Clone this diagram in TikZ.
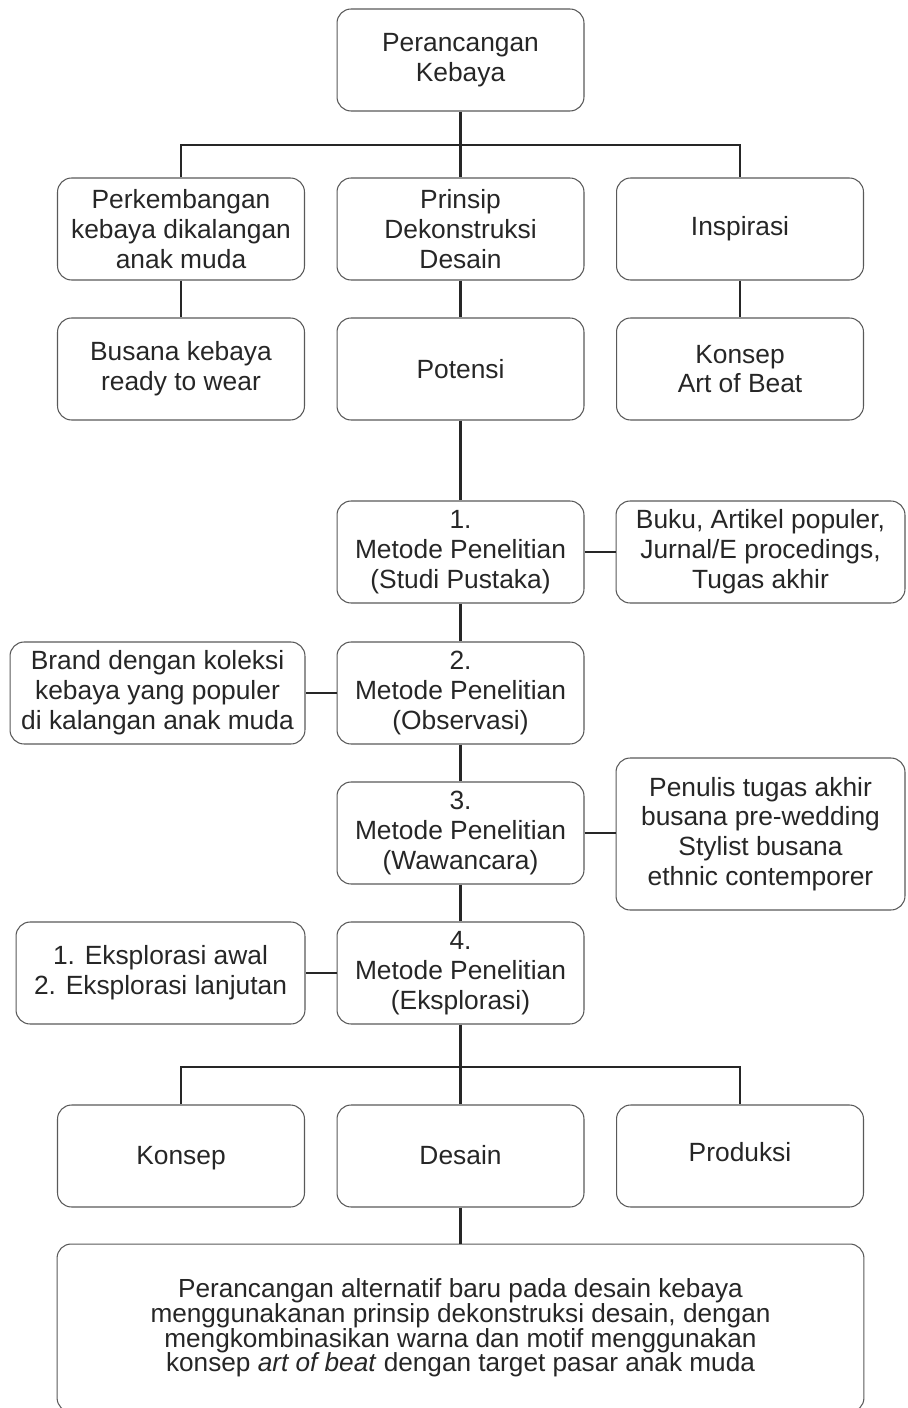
\documentclass[tikz,border=0pt]{standalone}
\usepackage{fontspec}
\setmainfont{Liberation Sans}
\newcommand\rapat{\fontsize{14.9}{14}\selectfont\lineskiplimit=-20pt\relax}
\tikzset{kotak/.style={draw=black!65,line width=0.6pt,rounded corners=8pt,align=center,
  text=black!85,minimum width=4.94cm,minimum height=2.04cm,inner sep=2pt,
  font=\fontsize{15}{17}\selectfont},
  bawah/.style={kotak,text height=12pt,text depth=2pt},
  garis/.style={line width=1.6pt,black!85}}

\begin{document}
\begin{tikzpicture}[x=0.02cm,y=-0.02cm]
\useasboundingbox (0,0) rectangle (907,1408);
\node[kotak] (judul) at (460.5,60) {Perancangan\\Kebaya};
\node[kotak] (kembang) at (181,229) {Perkembangan\\kebaya dikalangan\\anak muda};
\node[kotak] (prinsip) at (460.5,229) {Prinsip\\Dekonstruksi\\Desain};
\node[kotak] (inspirasi) at (740,229) {Inspirasi};
\node[kotak] (busana) at (181,369) {Busana kebaya\\ready to wear};
\node[kotak] (potensi) at (460.5,369) {Potensi};
\node[kotak] (konsepaob) at (740,369) {Konsep\\Art of Beat};
\node[kotak] (metode1) at (460.5,552) {1.\\Metode Penelitian\\(Studi Pustaka)};
\node[kotak,minimum width=5.78cm] (pustaka) at (760.5,552) {Buku, Artikel populer,\\Jurnal/E procedings,\\Tugas akhir};
\node[kotak] (metode2) at (460.5,693) {2.\\Metode Penelitian\\(Observasi)};
\node[kotak,minimum width=5.9cm] (brand) at (157.5,693) {Brand dengan koleksi\\kebaya yang populer\\di kalangan anak muda};
\node[kotak] (metode3) at (460.5,833) {3.\\Metode Penelitian\\(Wawancara)};
\node[kotak,minimum width=5.78cm,minimum height=3.04cm] (narsum) at (760.5,834) {Penulis tugas akhir\\busana pre-wedding\\Stylist busana\\ethnic contemporer};
\node[kotak] (metode4) at (460.5,973) {4.\\Metode Penelitian\\(Eksplorasi)};
\node[kotak,minimum width=5.78cm] (eksplor) at (160.5,973) {1. Eksplorasi awal\\2. Eksplorasi lanjutan};
\node[bawah] (konsep) at (181,1156) {Konsep};
\node[bawah] (desain) at (460.5,1156) {Desain};
\node[bawah] (produksi) at (740,1156) {\raisebox{1.6pt}{Produksi}};
\node[kotak,minimum width=16.14cm,minimum height=3.36cm,font=\rapat] (hasil) at (460.5,1328)
  {Perancangan alternatif baru pada desain kebaya\\menggunakanan prinsip dekonstruksi desain, dengan\\mengkombinasikan warna dan motif menggunakan\\konsep \textit{art of beat} dengan target pasar anak muda};
\coordinate (cabang1) at (460.5,145);
\coordinate (cabang2) at (460.5,1067);

\draw[garis] (judul.south)--(prinsip.north) (kembang.north)|-(cabang1)-|(inspirasi.north);
\draw[garis] (kembang)--(busana) (prinsip)--(potensi) (inspirasi)--(konsepaob);
\draw[garis] (potensi)--(metode1) (metode1)--(metode2) (metode2)--(metode3) (metode3)--(metode4);
\draw[garis] (metode1)--(pustaka) (metode2)--(brand) (metode3.east)--(metode3.east-|narsum.west) (metode4)--(eksplor);
\draw[garis] (metode4.south)--(desain.north) (konsep.north)|-(cabang2)-|(produksi.north);
\draw[garis] (desain)--(hasil);
\end{tikzpicture}
\end{document}
